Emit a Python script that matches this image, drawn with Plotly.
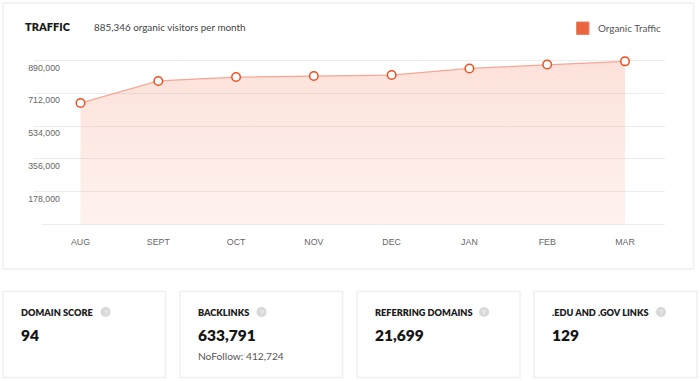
import plotly.graph_objects as go

W, H = 700, 381

months = ["AUG", "SEPT", "OCT", "NOV", "DEC", "JAN", "FEB", "MAR"]
organic_traffic = [659000, 779000, 800000, 806000, 811000, 847000, 868000, 885346]
y_ticks = [178000, 356000, 534000, 712000, 890000]
y_tick_labels = ["178,000", "356,000", "534,000", "712,000", "890,000"]
y_axis_max = 911700

card_titles = ["DOMAIN SCORE", "BACKLINKS", "REFERRING DOMAINS", ".EDU AND .GOV LINKS"]
card_values = ["94", "633,791", "21,699", "129"]
card_left = [3, 180, 357, 534]
card_right = [165.5, 342.5, 520, 697]
card_help_x = [105.5, 261.5, 484, 661]


def px(x):
    return x / W


def py(y):
    return 1 - y / H


PLOT_L, PLOT_R, PLOT_T, PLOT_B = 34, 665, 56.5, 224.5
SPACING = (625 - 80.5) / 7
x_range = [(PLOT_L - 80.5) / SPACING, (PLOT_R - 80.5) / SPACING]

fig = go.Figure()
fig.add_trace(go.Scatter(
    x=months, y=organic_traffic, mode="lines+markers", name="Organic Traffic", showlegend=False,
    fill="tozeroy",
    fillgradient=dict(type="vertical", colorscale=[[0, "rgba(246,107,74,0.09)"], [1, "rgba(240,100,60,0.19)"]]),
    line=dict(color="#f8a593", width=1.2),
    marker=dict(size=8.5, color="white", line=dict(color="#ee4f1f", width=1.5)),
    cliponaxis=False, hoverinfo="skip",
))

shapes = []
BORDER = "#f0f0f3"
shapes.append(dict(type="rect", xref="paper", yref="paper", x0=px(3), x1=px(693.5), y0=py(3), y1=py(269),
                   line=dict(color=BORDER, width=1.5), fillcolor="white", layer="below"))
for l, r in zip(card_left, card_right):
    shapes.append(dict(type="rect", xref="paper", yref="paper", x0=px(l), x1=px(r), y0=py(291.5), y1=py(377.5),
                       line=dict(color=BORDER, width=1.5), fillcolor="white", layer="below"))
shapes.append(dict(type="line", xref="paper", yref="paper", x0=px(42), x1=px(PLOT_R), y0=py(PLOT_B), y1=py(PLOT_B),
                   line=dict(color="#ececef", width=1), layer="below"))
shapes.append(dict(type="rect", xref="paper", yref="paper", x0=px(576.5), x1=px(589), y0=py(22), y1=py(34.5),
                   line=dict(color="#e2886c", width=1), fillcolor="#e9643f"))

annotations = []


def text(x, y, s, size, color, family, anchor="left", weight=None):
    annotations.append(dict(xref="paper", yref="paper", x=px(x), y=py(y), text=s, showarrow=False,
                            xanchor=anchor, yanchor="middle", align="left", borderpad=0, borderwidth=0,
                            font=dict(size=size, color=color, family=family, weight=weight)))


text(25, 27, "TRAFFIC", 11, "#1a1a1a", "Lato", weight=800)
text(94, 27, "885,346 organic visitors per month", 9.9, "#444444", "Lato")
text(598, 28, "Organic Traffic", 9.9, "#555555", "Lato")
for l, t, v, hx in zip(card_left, card_titles, card_values, card_help_x):
    text(l + 18, 312, t, 9.2, "#1c1c1c", "Lato", weight=800)
    text(l + 18, 335, v, 15.5, "#151515", "Lato", weight=800)
    shapes.append(dict(type="circle", xref="paper", yref="paper", x0=px(hx - 5), x1=px(hx + 5),
                       y0=py(312 - 5), y1=py(312 + 5), line=dict(width=0), fillcolor="#d8d8d8"))
    text(hx, 312, "?", 7, "white", "Liberation Sans", anchor="center")
text(198, 356, "NoFollow: 412,724", 10.2, "#555555", "Lato")

fig.update_layout(
    width=W, height=H, margin=dict(l=0, r=0, t=0, b=0), autosize=False,
    paper_bgcolor="white", plot_bgcolor="rgba(0,0,0,0)",
    shapes=shapes, annotations=annotations,
    font=dict(family="Liberation Sans", size=8.8, color="#666666"),
    xaxis=dict(domain=[px(PLOT_L), px(PLOT_R)], anchor="y", type="category", categoryorder="array",
               categoryarray=months, range=x_range, showgrid=False, zeroline=False, showline=False,
               ticks="", ticklen=0, tickfont=dict(size=8.8, color="#666666"), ticklabelstandoff=11),
    yaxis=dict(domain=[py(PLOT_B), py(PLOT_T)], anchor="x", range=[0, y_axis_max],
               tickmode="array", tickvals=y_ticks, ticktext=y_tick_labels,
               showgrid=True, gridcolor="#ececef", gridwidth=1, zeroline=False, showline=False, ticks="",
               tickfont=dict(size=8.8, color="#666666"), ticklabelstandoff=-27, ticklabelshift=7),
    showlegend=False,
    hovermode=False,
)
fig.write_html("out.html", config={"displayModeBar": False},
               post_script="document.body.style.margin='0';document.documentElement.style.margin='0';")
